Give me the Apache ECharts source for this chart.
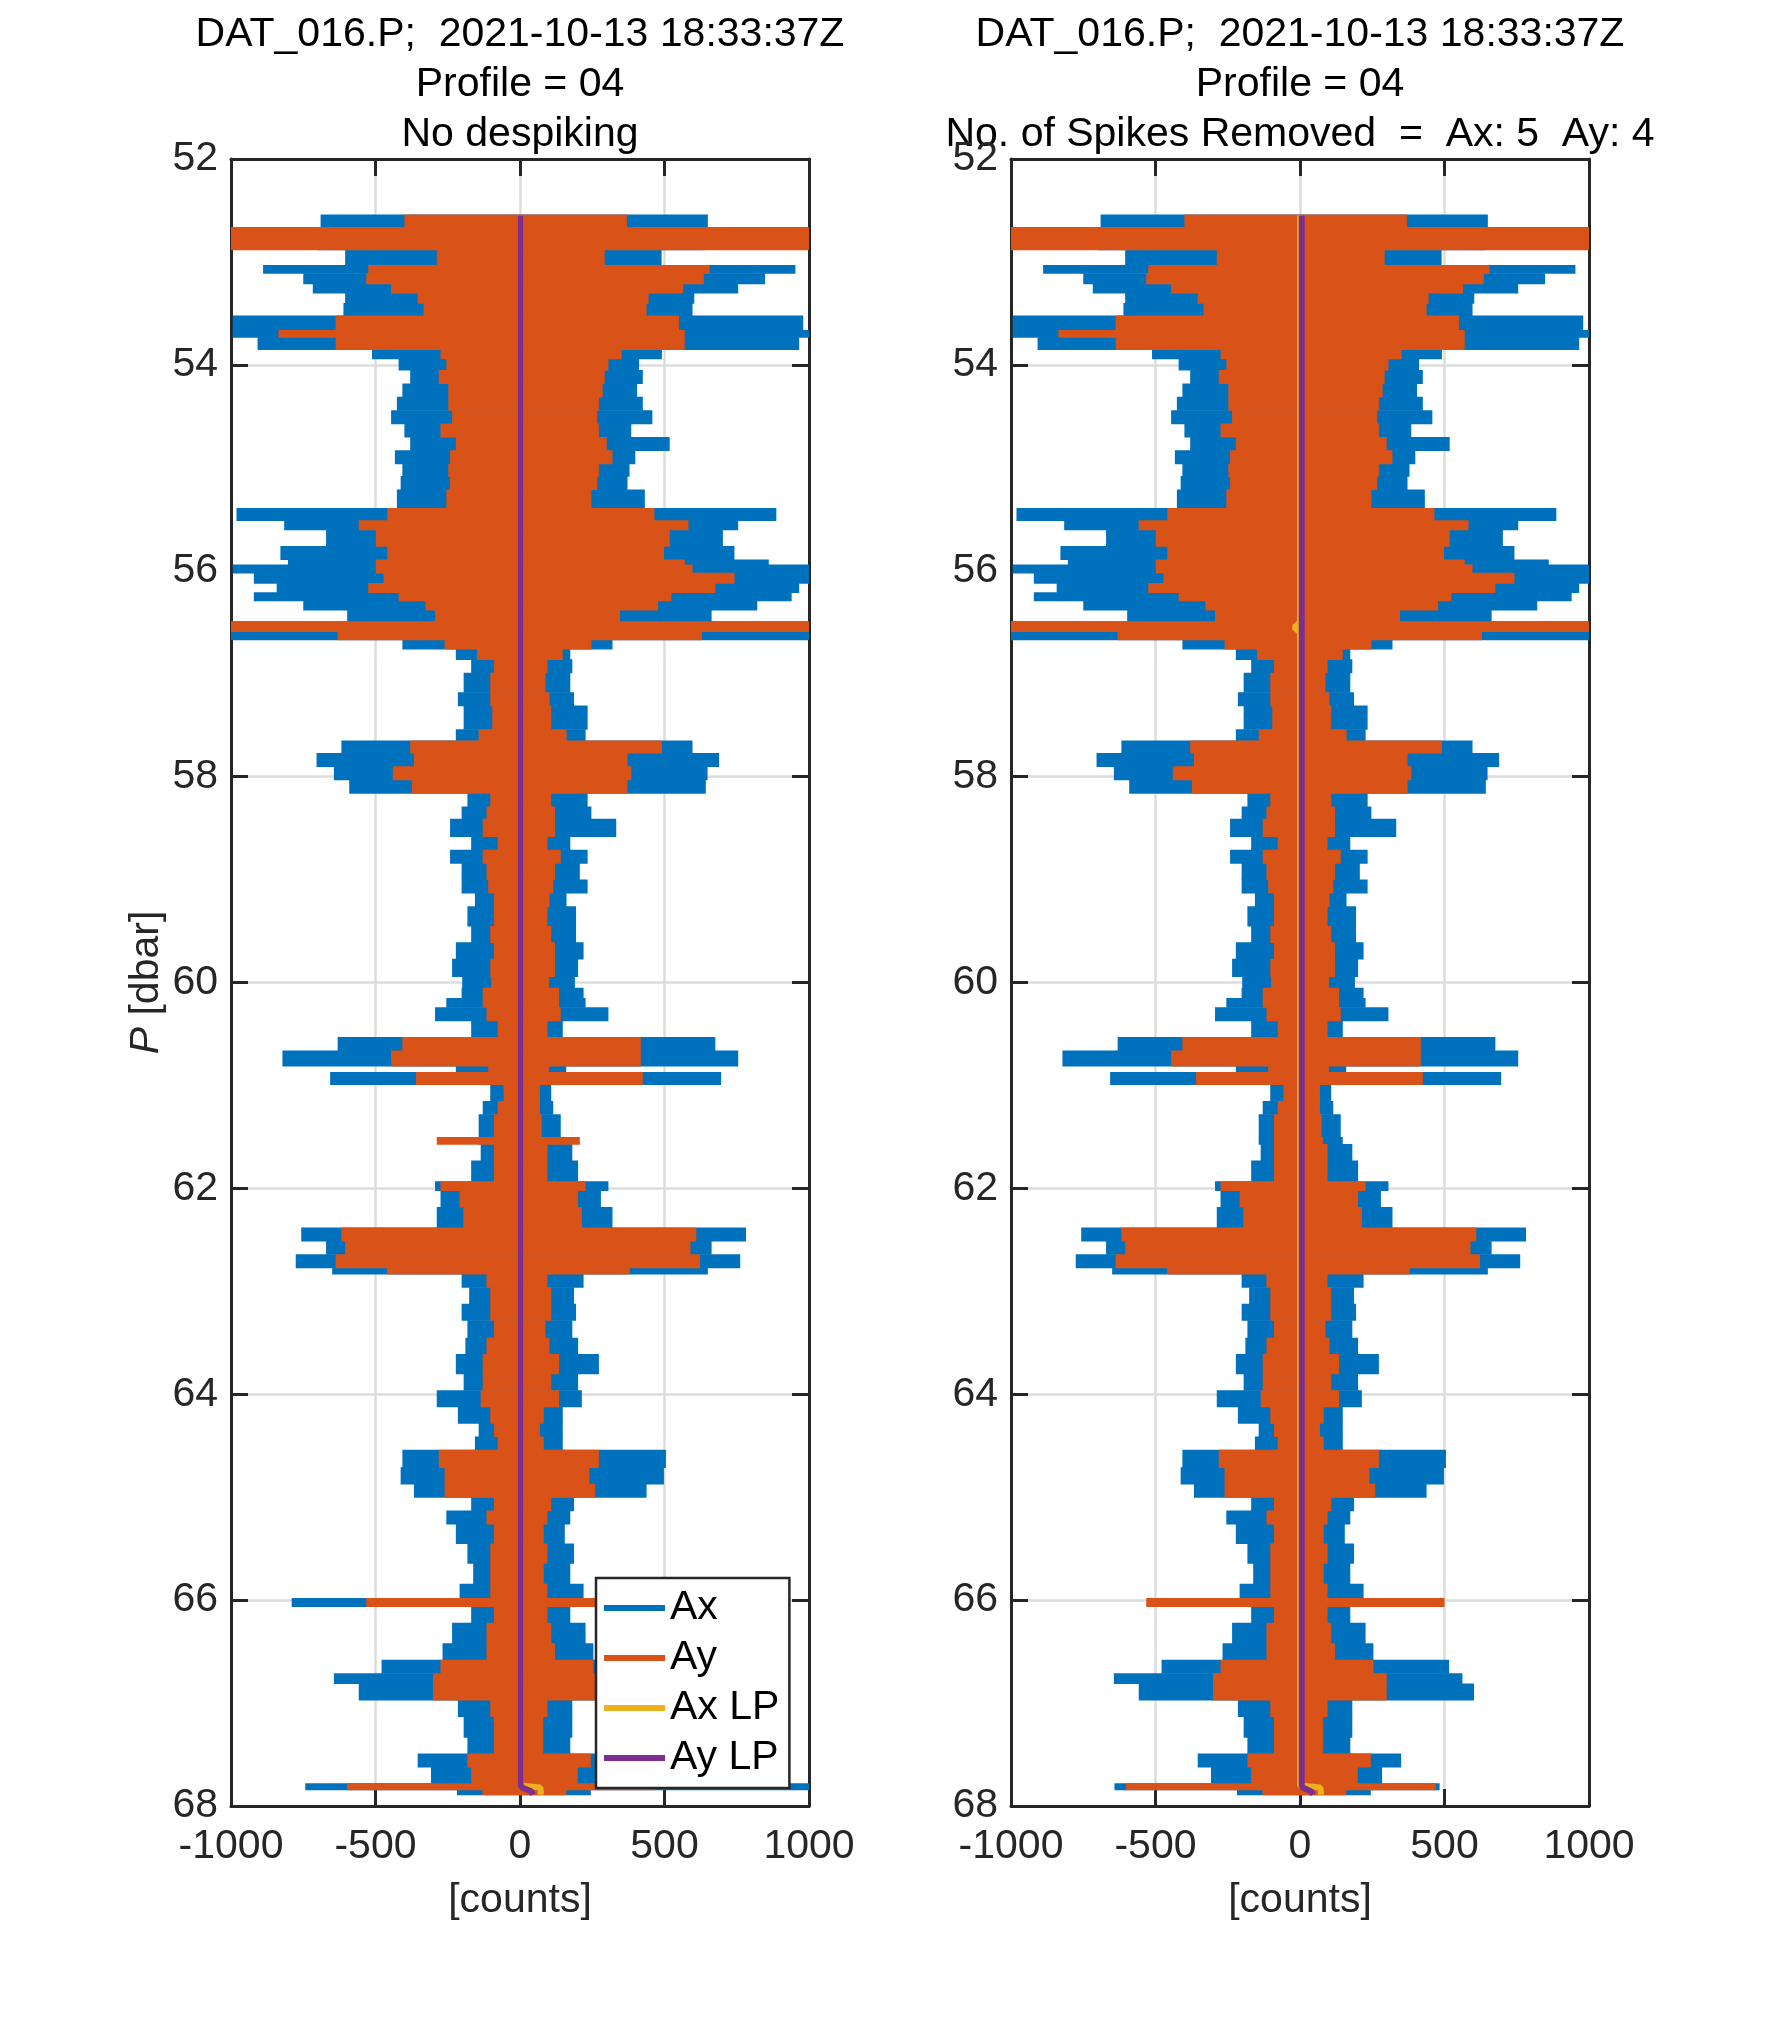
<!DOCTYPE html>
<html><head><meta charset="utf-8">
<script src="https://cdn.jsdelivr.net/npm/echarts@6/dist/echarts.min.js"></script>
<style>html,body{margin:0;padding:0;background:#fff}#c{width:1772px;height:2029px}</style>
</head><body><div id="c"></div><script>
// Pressure [dbar] boundaries of the envelope segments (115 segments, 116 edges)
const pEdges = [52.54,52.66,52.88,53.03,53.11,53.21,53.30,53.40,53.52,53.66,
  53.73,53.85,53.94,54.05,54.18,54.31,54.44,54.57,54.70,54.83,
  54.96,55.08,55.21,55.39,55.51,55.60,55.76,55.89,55.94,56.02,
  56.12,56.21,56.29,56.38,56.49,56.59,56.67,56.76,56.86,56.99,
  57.18,57.31,57.54,57.65,57.77,57.90,58.03,58.16,58.29,58.41,
  58.58,58.71,58.84,59.00,59.13,59.26,59.45,59.61,59.77,59.94,
  60.05,60.15,60.24,60.37,60.53,60.66,60.81,60.87,60.99,61.15,
  61.28,61.50,61.57,61.73,61.93,62.02,62.18,62.38,62.51,62.64,
  62.77,62.83,62.96,63.12,63.28,63.45,63.61,63.80,63.96,64.12,
  64.28,64.41,64.54,64.71,64.87,65.00,65.13,65.26,65.45,65.64,
  65.84,65.98,66.06,66.22,66.42,66.58,66.71,66.81,66.97,67.13,
  67.33,67.49,67.62,67.78,67.84,67.89];
// Ax envelope (raw, no despiking) [counts]
const axMin = [-690,-700,-605,-889,-750,-717,-605,-611,-994,-994,
  -908,-512,-420,-380,-407,-426,-446,-400,-380,-433,
  -407,-413,-426,-981,-816,-671,-829,-803,-994,-921,
  -842,-921,-750,-598,-1000,-1000,-407,-222,-169,-195,
  -215,-195,-222,-618,-704,-644,-591,-182,-202,-242,
  -169,-242,-202,-202,-156,-182,-169,-222,-235,-200,
  -202,-255,-294,-169,-631,-822,-222,-657,-103,-129,
  -143,-143,-136,-169,-294,-275,-288,-757,-671,-776,
  -650,-202,-176,-202,-182,-189,-222,-195,-288,-215,
  -143,-156,-407,-413,-367,-169,-255,-222,-182,-162,
  -209,-790,-169,-235,-268,-479,-644,-558,-215,-195,
  -182,-354,-308,-743,-218];
const axMax = [650,640,490,953,848,755,603,597,980,1000,
  966,491,412,425,405,425,458,385,518,399,
  379,372,432,887,755,702,742,861,1000,1000,
  966,940,821,663,1000,1000,320,174,181,174,
  187,234,227,597,689,649,643,234,247,333,
  174,234,207,234,161,194,194,220,201,190,
  220,227,306,148,676,755,160,696,108,115,
  141,148,181,201,306,280,320,782,663,762,
  650,220,187,194,181,201,273,201,214,148,
  148,148,505,498,438,187,174,155,187,174,
  220,550,174,227,254,516,562,602,181,181,
  174,350,284,1000,245];
// Ay envelope (raw, no despiking) [counts]
const ayMin = [-400,-1000,-288,-525,-532,-446,-354,-334,-638,-836,
  -638,-275,-255,-281,-248,-248,-235,-275,-222,-242,
  -248,-242,-255,-459,-558,-499,-459,-499,-499,-472,
  -525,-420,-327,-294,-1000,-631,-261,-149,-90,-103,
  -103,-96,-143,-380,-367,-440,-374,-103,-116,-129,
  -77,-129,-116,-110,-90,-90,-103,-90,-103,-100,
  -129,-129,-116,-77,-407,-446,-110,-360,-57,-77,
  -90,-288,-90,-90,-275,-209,-196,-618,-605,-638,
  -460,-116,-103,-103,-90,-116,-129,-129,-136,-103,
  -90,-77,-281,-261,-261,-90,-116,-90,-103,-103,
  -103,-532,-90,-116,-116,-275,-301,-301,-103,-90,
  -90,-182,-169,-598,-130];
const ayMax = [370,1000,293,656,636,564,445,438,550,570,
  570,352,306,293,286,273,267,273,300,320,
  273,267,247,465,583,518,498,570,597,742,
  676,524,478,346,1000,630,247,148,95,88,
  102,108,161,491,372,385,372,108,121,121,
  95,141,121,115,102,95,108,121,121,100,
  135,135,141,95,418,418,100,425,69,69,
  75,207,95,95,227,201,214,610,590,623,
  380,95,108,108,88,102,135,108,135,82,
  69,82,273,240,260,108,95,82,95,82,
  95,500,95,108,121,254,300,300,95,80,
  80,245,200,470,160];
// Segments changed by despiking (segment top pressure) and their despiked envelopes
const despikedP = [61.50, 65.98, 67.78];
const despikedAxMin = [-143, -209, -642];
const despikedAxMax = [148, 220, 483];
const despikedAyMin = [-90, -532, -602];
const despikedAyMax = [80, 500, 470];
// Low-passed signals
const lpP = [52.55, 56.50, 56.55, 56.60, 67.80, 67.82, 67.86, 67.89];
const axLPRaw = [2, 2, 2, 2, 2, 70, 72, 72];
const ayLPRaw = [2, 2, 2, 2, 2, 8, 40, 45];
const axLPDespiked = [0, 0, -20, 0, 0, 70, 72, 72];
const ayLPDespiked = [6, 6, 6, 6, 6, 10, 40, 45];
// Tick settings
const xTickMin = -1000, xTickMax = 1000, xTickStep = 500;
const yTickMin = 52, yTickMax = 68, yTickStep = 2;
const titleLine1 = 'DAT_016.P;  2021-10-13 18:33:37Z';
const titleLine2 = 'Profile = 04';
const titleLeft3 = 'No despiking';
const titleRight3 = 'No. of Spikes Removed  =  Ax: 5  Ay: 4';

const FONT = '"Liberation Sans", Arial, Helvetica, sans-serif';
const AXC = '#262626';
const C_AX = '#0072BD', C_AY = '#D95319', C_AXLP = '#EDB120', C_AYLP = '#7E2F8E';

function envData(mins, maxs) {
  const out = [];
  for (let i = 0; i < mins.length; i++) out.push([pEdges[i], pEdges[i + 1], mins[i], maxs[i]]);
  return out;
}
function applyDespike(arr, repl) {
  const out = arr.slice();
  despikedP.forEach((p, k) => {
    const i = pEdges.findIndex(e => Math.abs(e - p) < 1e-6);
    if (i >= 0) out[i] = repl[k];
  });
  return out;
}
const axMinD = applyDespike(axMin, despikedAxMin), axMaxD = applyDespike(axMax, despikedAxMax);
const ayMinD = applyDespike(ayMin, despikedAyMin), ayMaxD = applyDespike(ayMax, despikedAyMax);

function xAxes(gi) {
  const common = { type: 'value', gridIndex: gi, min: xTickMin, max: xTickMax, interval: xTickStep,
    axisLine: { show: true, onZero: false, lineStyle: { color: AXC, width: 3 } },
    axisTick: { show: true, inside: true, length: 17, lineStyle: { color: AXC, width: 3 } } };
  return [
    Object.assign({}, common, { position: 'bottom',
      axisLabel: { show: true, margin: 20, fontSize: 41, color: AXC, fontFamily: FONT,
        formatter: v => String(v) },
      splitLine: { show: true, lineStyle: { color: '#dcdcdc', width: 2.5 } },
      name: '[counts]', nameLocation: 'middle', nameGap: 74,
      nameTextStyle: { fontSize: 41, color: AXC, fontFamily: FONT } }),
    Object.assign({}, common, { position: 'top', axisLabel: { show: false }, splitLine: { show: false } })
  ];
}
function yAxes(gi, withName) {
  const common = { type: 'value', gridIndex: gi, min: yTickMin, max: yTickMax, interval: yTickStep, inverse: true,
    axisLine: { show: true, onZero: false, lineStyle: { color: AXC, width: 3 } },
    axisTick: { show: true, inside: true, length: 17, lineStyle: { color: AXC, width: 3 } } };
  const left = Object.assign({}, common, { position: 'left',
    axisLabel: { show: true, margin: 13, fontSize: 41, color: AXC, fontFamily: FONT, formatter: v => String(v) },
    splitLine: { show: true, lineStyle: { color: '#dcdcdc', width: 2.5 } } });
  if (withName) {
    Object.assign(left, { name: '{it|P} [dbar]', nameLocation: 'middle', nameGap: 64,
      nameTextStyle: { fontSize: 41, color: AXC, fontFamily: FONT,
        rich: { it: { fontStyle: 'italic', fontSize: 41, color: AXC, fontFamily: FONT } } } });
  }
  return [left, Object.assign({}, common, { position: 'right', axisLabel: { show: false }, splitLine: { show: false } })];
}
function envSeries(name, color, gi, data, z) {
  return { type: 'custom', name, xAxisIndex: gi * 2, yAxisIndex: gi * 2, z, clip: true,
    itemStyle: { color }, encode: { x: [2, 3], y: [0, 1] },
    renderItem(params, api) {
      const a = api.coord([api.value(2), api.value(0)]);
      const b = api.coord([api.value(3), api.value(1)]);
      return { type: 'rect', shape: { x: a[0], y: a[1], width: b[0] - a[0], height: b[1] - a[1] + 0.6 },
        style: { fill: color } };
    }, data };
}
function lpSeries(name, color, gi, vals, z) {
  return { type: 'line', name, xAxisIndex: gi * 2, yAxisIndex: gi * 2, z, showSymbol: false, symbol: 'none',
    itemStyle: { color }, lineStyle: { color, width: 6 },
    data: vals.map((v, i) => [v, lpP[i]]) };
}
function titleTexts(cx, l3) {
  return [titleLine1, titleLine2, l3].map((t, i) => ({ type: 'text', x: cx, y: 35 + 50 * i,
    style: { text: t, fill: '#000', fontSize: 41, fontFamily: FONT, align: 'center', verticalAlign: 'middle' } }));
}

const chart = echarts.init(document.getElementById('c'), null, { renderer: 'canvas' });
chart.setOption({
  animation: false,
  backgroundColor: '#fff',
  grid: [
    { left: 231, top: 159, width: 578, height: 1647, containLabel: false },
    { left: 1011, top: 159, width: 578, height: 1647, containLabel: false }
  ],
  xAxis: [...xAxes(0), ...xAxes(1)],
  yAxis: [...yAxes(0, true), ...yAxes(1, false)],
  legend: {
    left: 596, top: 1578, orient: 'vertical', selectedMode: false,
    backgroundColor: '#fff', borderColor: AXC, borderWidth: 2.5, borderRadius: 0,
    padding: [5, 10, 5, 8], itemGap: 0, itemWidth: 61, itemHeight: 6,
    textStyle: { fontSize: 41, color: '#000', fontFamily: FONT, lineHeight: 50 },
    data: [
      { name: 'Ax', icon: 'rect' }, { name: 'Ay', icon: 'rect' },
      { name: 'Ax LP', icon: 'rect' }, { name: 'Ay LP', icon: 'rect' }
    ]
  },
  graphic: [...titleTexts(520, titleLeft3), ...titleTexts(1300, titleRight3)],
  series: [
    envSeries('Ax', C_AX, 0, envData(axMin, axMax), 2),
    envSeries('Ay', C_AY, 0, envData(ayMin, ayMax), 3),
    lpSeries('Ax LP', C_AXLP, 0, axLPRaw, 4),
    lpSeries('Ay LP', C_AYLP, 0, ayLPRaw, 5),
    envSeries('Ax', C_AX, 1, envData(axMinD, axMaxD), 2),
    envSeries('Ay', C_AY, 1, envData(ayMinD, ayMaxD), 3),
    lpSeries('Ax LP', C_AXLP, 1, axLPDespiked, 4),
    lpSeries('Ay LP', C_AYLP, 1, ayLPDespiked, 5)
  ]
});
</script></body></html>
